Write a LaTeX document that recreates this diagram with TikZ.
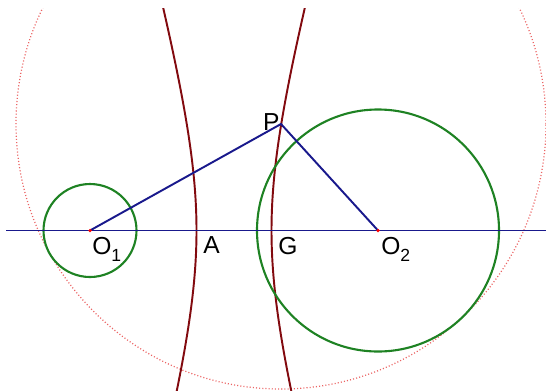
\documentclass[tikz,border=0pt]{standalone}
\usepackage{fontspec}
\setmainfont{Liberation Sans}
\usepackage{tikz}

\definecolor{cgreen}{RGB}{30,130,35}
\definecolor{cblue}{RGB}{25,25,140}
\definecolor{cred}{RGB}{130,10,15}
\definecolor{cpink}{RGB}{235,100,100}

\newcommand{\lsub}[1]{\raisebox{-0.55ex}{\fontsize{10}{10}\selectfont #1}}

\begin{document}
\begin{tikzpicture}[
    x=0.02cm, y=0.02cm,
    every node/.style={font=\fontsize{14}{16}\selectfont, inner sep=0pt},
    circ/.style={cgreen, line width=1.2pt},
    seg/.style={cblue, line width=1.1pt},
    hyp/.style={cred, line width=1.1pt, smooth, samples=60},
    dotc/.style={cpink, line width=0.7pt, dash pattern=on 0.6pt off 1.2pt},
    lbl/.style={anchor=north west},
    pt/.style={circle, fill=red, inner sep=0pt, minimum size=2pt},
  ]
  \useasboundingbox (0,0) rectangle (546,390);
  \coordinate (O1) at (90,159.5);
  \coordinate (O2) at (378,159.5);
  \coordinate (P) at (281,266);
  \coordinate (A) at (196.5,159.5);
  \coordinate (G) at (271.5,159.5);
  \coordinate (ax0) at (6,159.5);
  \coordinate (ax1) at (546,159.5);
  \begin{scope}
    \clip (0,0) rectangle (546,382);
    \draw[dotc] (P) circle[radius=265];
    \draw[hyp, domain=-1.05:1.3] plot ({234-37.5*cosh(\x)}, {159.5+139*sinh(\x)});
    \draw[hyp, domain=-1.05:1.3] plot ({234+37.5*cosh(\x)}, {159.5+139*sinh(\x)});
  \end{scope}
  \draw[circ] (O1) circle[radius=46.5];
  \draw[circ] (O2) circle[radius=121];
  \draw[seg, line width=0.9pt] (ax0) -- (ax1);
  \draw[seg] (O1) -- (P) -- (O2);
  \node[pt] (p1) at (O1) {};
  \node[pt] (p2) at (O2) {};
  % labels
  \node[lbl] (lO1) at (92,153.5) {O\lsub{1}};
  \node[lbl] (lA) at (203,153.5) {A};
  \node[lbl] (lG) at (278,153.5) {G};
  \node[lbl] (lO2) at (381,153.5) {O\lsub{2}};
  \node[anchor=south east] (lP) at (280,259) {P};
\end{tikzpicture}
\end{document}
